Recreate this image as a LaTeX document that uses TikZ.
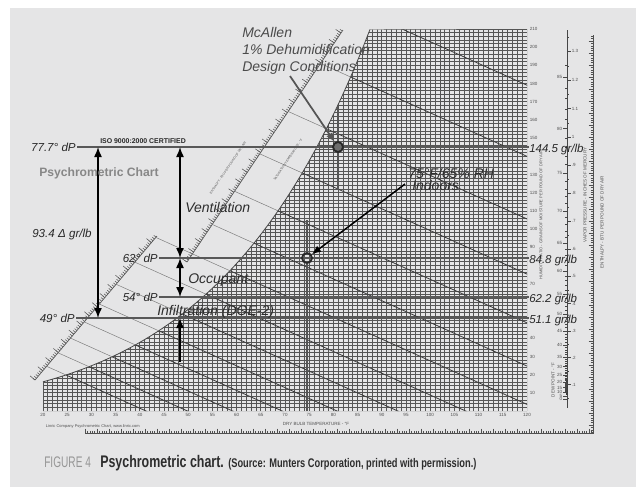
\documentclass[tikz,border=0pt]{standalone}
\usepackage{fontspec}
\setmainfont{Liberation Sans}
\newfontfamily\capfont[FakeStretch=0.74]{Liberation Sans Bold}
\newfontfamily\figfont[FakeStretch=0.66]{Liberation Sans}
\usetikzlibrary{arrows.meta}
\usetikzlibrary{decorations.pathreplacing}
\usetikzlibrary{calc}

\tikzset{
  gridline/.style={draw={rgb, 255:red, 85; green, 85; blue, 85 }, line width=0.55pt},
  wbline/.style={draw={rgb, 255:red, 60; green, 60; blue, 60 }, line width=0.6pt},
  wbthin/.style={draw={rgb, 255:red, 120; green, 120; blue, 120 }, line width=0.35pt},
  satline/.style={draw={rgb, 255:red, 70; green, 70; blue, 70 }, line width=0.6pt},
  rulerline/.style={draw={rgb, 255:red, 85; green, 85; blue, 85 }, line width=0.5pt,
    postaction={draw={rgb, 255:red, 85; green, 85; blue, 85 }, line width=0.4pt, decorate,
      decoration={ticks, segment length=1.8pt, amplitude=1.1pt, raise=1.1pt}},
    postaction={draw={rgb, 255:red, 85; green, 85; blue, 85 }, line width=0.4pt, decorate,
      decoration={ticks, segment length=9pt, amplitude=2.4pt, raise=2.4pt}}},
  enthscale/.style={draw={rgb, 255:red, 80; green, 80; blue, 80 }, line width=0.5pt,
    postaction={draw={rgb, 255:red, 80; green, 80; blue, 80 }, line width=0.4pt, decorate,
      decoration={ticks, segment length=1.8pt, amplitude=0.8pt, raise=0.8pt}},
    postaction={draw={rgb, 255:red, 80; green, 80; blue, 80 }, line width=0.4pt, decorate,
      decoration={ticks, segment length=9pt, amplitude=1.6pt, raise=1.6pt}}},
  scaleline/.style={draw={rgb, 255:red, 70; green, 70; blue, 70 }, line width=0.5pt},
  scaletxt/.style={font=\fontsize{3.4}{4}\selectfont, text={rgb, 255:red, 80; green, 80; blue, 80 }, inner sep=0.5pt},
  dpline/.style={draw={rgb, 255:red, 88; green, 88; blue, 88 }, line width=2.1pt},
  crossline/.style={draw={rgb, 255:red, 85; green, 85; blue, 85 }, line width=1.4pt},
  dimarrow/.style={draw=black, line width=1.1pt, >={Latex[length=7.5pt,width=6pt]}, <->},
  uparrow/.style={draw=black, line width=1.1pt, >={Latex[length=7.5pt,width=6pt]}, ->},
  ptarrow/.style={line width=1.3pt, >={Latex[length=7pt,width=5.5pt]}, ->},
  ptmark/.style={circle, draw={rgb, 255:red, 40; green, 40; blue, 40 }, line width=1.4pt, minimum size=7.5pt, inner sep=0pt},
  anno/.style={font=\itshape\fontsize{10.5}{12.6}\selectfont, text={rgb, 255:red, 45; green, 45; blue, 45 }, inner sep=0pt},
  dplbl/.style={font=\itshape\fontsize{8.7}{10}\selectfont, text={rgb, 255:red, 40; green, 40; blue, 40 }, inner sep=0.75pt},
  grlbl/.style={font=\itshape\fontsize{8.6}{10}\selectfont, text={rgb, 255:red, 40; green, 40; blue, 40 }, inner sep=0pt},
}

\begin{document}
\begin{tikzpicture}[x=0.75pt,y=0.75pt,yscale=-1,xscale=1,
  declare function={
    px(\tf)=43+(\tf-20)*4.84;
    py(\wg)=411-\wg*1.819;
    pws(\tf)=6.112*exp(17.62*(\tf-32)/1.8/(243.12+(\tf-32)/1.8))/33.8639;
    ws(\tf)=4354*pws(\tf)/(29.921-pws(\tf));
    sh(\wg)=7*(1-exp(-(\wg-16)/20));
    wp(\pv)=4354*\pv/(29.921-\pv);
  }]
\useasboundingbox (0,0) rectangle (638,487);

%Shape: Rectangle [background panel]
\draw [draw opacity=0][fill={rgb, 255:red, 229; green, 229; blue, 230 }, fill opacity=1] (10,8) rectangle (636,487);

%Shape: chart grid under the saturation curve
\begin{scope}
\clip (43,411) -- plot[domain=20:89, samples=60, variable=\tv] ({px(\tv)-sh(ws(\tv))},{py(ws(\tv))}) -- (527,29) -- (527,411) -- cycle;
\foreach \tv in {20,...,120} {\draw[gridline] ({px(\tv)},29) -- ({px(\tv)},411);}
\foreach \wv in {0,2,...,210} {\draw[gridline] (43,{py(\wv)}) -- (527,{py(\wv)});}
\foreach \tv in {25,30,...,90} {\draw[wbline] ({px(\tv)-sh(ws(\tv))},{py(ws(\tv))}) -- ++(420,189);}
\end{scope}
\draw[satline] plot[domain=20:89, samples=60, variable=\tv] ({px(\tv)-sh(ws(\tv))},{py(ws(\tv))});

%Straight Lines [saturation scales]
\coordinate (lrA) at (35,380);
\coordinate (lrB) at (157,236);
\coordinate (urA) at (187,262);
\coordinate (urB) at (343,30);
\draw[rulerline] (lrA) -- (lrB);
\draw[rulerline] (urA) -- (urB);
\foreach \tv in {25,30,...,60} {
  \coordinate (wbS) at ({px(\tv)-sh(ws(\tv))},{py(ws(\tv))});
  \coordinate (wbU) at ($(wbS)+(-100,-45)$);
  \draw[wbthin] (wbS) -- (intersection of wbS--wbU and lrA--lrB);
}
\foreach \tv in {65,70,...,85} {
  \coordinate (wbS) at ({px(\tv)-sh(ws(\tv))},{py(ws(\tv))});
  \coordinate (wbU) at ($(wbS)+(-100,-45)$);
  \draw[wbthin] (wbS) -- (intersection of wbS--wbU and urA--urB);
}
\node[scaletxt, rotate=56, font=\fontsize{2.3}{3}\selectfont] (enthsat) at (228,168) {ENTHALPY - BTU PER POUND OF DRY AIR};
\node[scaletxt, rotate=56, font=\fontsize{2.3}{3}\selectfont] (sattemp) at (288,160) {SATURATION TEMPERATURE - °F};

% Text Node [axis labels]
\foreach \tv in {20,25,...,120} {\node[scaletxt] (xl\tv) at ({px(\tv)},415) {\tv};}
\foreach \wv in {10,20,30,40,70,90,100,110,120,130,150,160,170,180,190,200,210} {\node[scaletxt, anchor=west] (wl\wv) at (529,{py(\wv)}) {\wv};}
\node[scaletxt] (dbtitle) at (316,424) {DRY BULB TEMPERATURE - °F};
\node[scaletxt, anchor=west, font=\fontsize{3}{4}\selectfont] (linric) at (45,426) {Linric Company Psychrometric Chart, www.linric.com};
\node[scaletxt, rotate=90, font=\fontsize{3}{4}\selectfont] (hrtitle) at (541,215) {HUMIDITY RATIO - GRAINS OF MOISTURE PER POUND OF DRY AIR};

%Straight Lines [dew point and vapour pressure scale]
\draw[scaleline] (567,30) -- (567,408);
\draw[line width=1.6pt, draw={rgb, 255:red, 60; green, 60; blue, 60 }] (567,380) -- (567,395);
\foreach \dv in {10,...,86} {\draw[scaleline, line width=0.35pt] (567,{py(ws(\dv))}) -- ++(-2,0);}
\foreach \dv in {0,5,10,...,85} {\draw[scaleline, line width=0.35pt] (567,{py(ws(\dv))}) -- ++(-4,0) node[scaletxt, anchor=east] (dpl\dv) {\dv};}
\foreach \pv in {0.05,0.15,...,1.36} {\draw[scaleline, line width=0.35pt] (567,{py(wp(\pv))}) -- ++(2,0);}
\foreach \pv/\pl [count=\i] in {0.1/.1,0.2/.2,0.3/.3,0.4/.4,0.5/.5,0.6/.6,0.7/.7,0.8/.8,0.9/.9,1.0/1,1.1/1.1,1.2/1.2,1.3/1.3}
  {\draw[scaleline, line width=0.35pt] (567,{py(wp(\pv))}) -- ++(4,0) node[scaletxt, anchor=west] (vpl\i) {\pl};}
\node[scaletxt, rotate=90] (dptitle) at (553,380) {DEW POINT - °F};
\node[scaletxt, rotate=90] (vptitle) at (585,195) {VAPOR PRESSURE - INCHES OF MERCURY};

%Straight Lines [enthalpy scale]
\coordinate (enA) at (85,433);
\coordinate (enC) at (593,433);
\coordinate (enB) at (593,35);
\draw[enthscale] (enA) -- (enC) -- (enB);
\node[scaletxt, rotate=90] (entitle) at (602,222) {ENTHALPY - BTU PER POUND OF DRY AIR};

% Text Node [dew point levels]
\node[dplbl, anchor=east] (dp777) at (77,147) {77.7° dP};
\node[dplbl, anchor=east] (dp62) at (159,258) {62° dP};
\node[dplbl, anchor=east] (dp54) at (159,297) {54° dP};
\node[dplbl, anchor=east] (dp49) at (76,318) {49° dP};
\node[grlbl, anchor=base west] (gr1445) at (529,152) {144.5 gr/lb};
\node[grlbl, anchor=base west] (gr848) at (529,263) {84.8 gr/lb};
\node[grlbl, anchor=base west] (gr622) at (529,302) {62.2 gr/lb};
\node[grlbl, anchor=base west] (gr511) at (529,323) {51.1 gr/lb};

%Straight Lines [dew point levels]
\draw[dpline] (dp777.east) -- (dp777.east -| gr1445.west);
\draw[dpline] (dp62.east) -- (dp62.east -| gr848.west);
\draw[dpline] (dp54.east) -- (dp54.east -| gr622.west);
\draw[dpline] (dp49.east) -- (dp49.east -| gr511.west);

%Shape: Circle [design points]
\node[ptmark, fill={rgb, 255:red, 110; green, 110; blue, 110 }] (mcpt) at (338,147) {};
\node[ptmark] (inpt) at (307,258) {};
\coordinate (mcTop) at (338,105);
\coordinate (mcBot) at (338,190);
\coordinate (inTop) at (307,220);
\coordinate (inBot) at (307,411);
\draw[crossline] (mcTop) -- (mcpt.north);
\draw[crossline] (mcpt.south) -- (mcBot);
\draw[crossline, line width=0.8pt] (inTop) -- (inpt.north);
\draw[crossline, line width=1.6pt] (inpt.south) -- (inBot);

%Straight Lines [load arrows]
\coordinate (totTop) at (98,147);
\coordinate (totBot) at (98,318);
\coordinate (venTop) at (180,147);
\coordinate (venBot) at (180,258);
\coordinate (occBot) at (180,297);
\coordinate (infTail) at (180,362);
\coordinate (infHead) at (180,318);
\draw[dimarrow] (totTop) -- (totBot);
\draw[dimarrow] (venTop) -- (venBot);
\draw[dimarrow] (venBot) -- (occBot);
\draw[uparrow] (infTail) -- (infHead);

% Text Node
\node[anno, anchor=base west] (ventl) at (185,212) {Ventilation};
\node[anno, anchor=base west] (occl) at (188,283) {Occupant};
\node[anno, anchor=base west] (infl) at (157,315) {Infiltration (DOE-2)};
\node[dplbl, anchor=base west, inner sep=0pt] (deltal) at (32,237) {93.4 Δ gr/lb};
\node[anchor=base west, inner sep=0pt, font=\bfseries\fontsize{9.1}{11}\selectfont, text={rgb, 255:red, 135; green, 135; blue, 135 }] (charttitle) at (39,176) {Psychrometric Chart};
\node[anchor=base west, inner sep=0pt, font=\bfseries\fontsize{5.2}{6}\selectfont, text={rgb, 255:red, 40; green, 40; blue, 40 }] (isol) at (100,143) {ISO 9000:2000 CERTIFIED};

% Text Node [McAllen]
\node[anno, anchor=base west, text={rgb, 255:red, 75; green, 75; blue, 75 }] (mcA) at (242,37) {McAllen};
\node[anno, anchor=base west, text={rgb, 255:red, 75; green, 75; blue, 75 }] (mcB) at (242,54) {1\% Dehumidification};
\node[anno, anchor=base west, text={rgb, 255:red, 75; green, 75; blue, 75 }] (mcC) at (242,71) {Design Conditions};
\coordinate (mcTail) at (290,76);
\draw[ptarrow, draw={rgb, 255:red, 85; green, 85; blue, 85 }] (mcTail) -- (mcpt);

% Text Node [indoor point]
\node[anno, anchor=base west] (inA) at (408,178) {75°F/65\% RH};
\node[anno, anchor=base west] (inB) at (412,190) {Indoors};
\coordinate (inTail) at (405,184);
\draw[ptarrow, line width=1.1pt, draw=black] (inTail) -- (inpt);

% Text Node [caption]
\node[anchor=base west, inner sep=0pt, font=\figfont\fontsize{11.5}{13}\selectfont, text={rgb, 255:red, 150; green, 150; blue, 150 }] (figno) at (44,467) {FIGURE 4};
\node[anchor=base west, inner sep=0pt, font=\capfont\fontsize{12.6}{14}\selectfont, text={rgb, 255:red, 45; green, 45; blue, 45 }] (figtitle) at (100,467) {Psychrometric chart.};
\node[anchor=base west, inner sep=0pt, font=\capfont\fontsize{9.4}{11}\selectfont, text={rgb, 255:red, 45; green, 45; blue, 45 }] (figsrc) at (228,467) {(Source: Munters Corporation, printed with permission.)};

\end{tikzpicture}
\end{document}
